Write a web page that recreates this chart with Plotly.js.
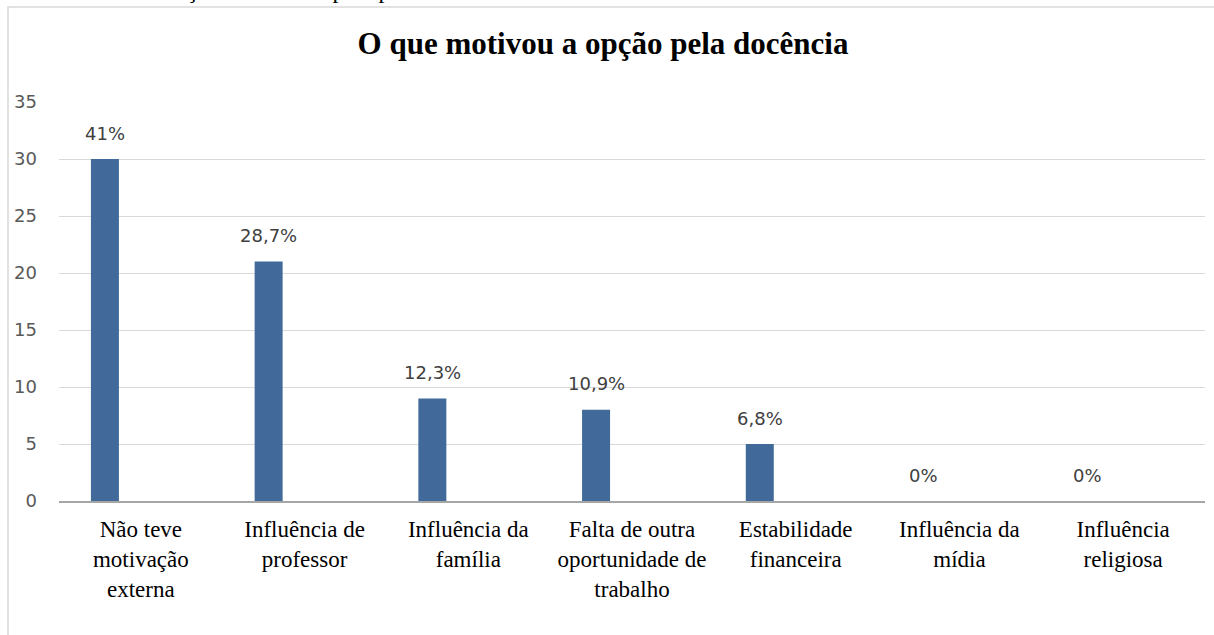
<!DOCTYPE html>
<html>
<head>
<meta charset="utf-8">
<script src="https://cdn.plot.ly/plotly-3.0.1.min.js"></script>
<style>html,body{margin:0;padding:0;background:#fff;}#chart{width:1214px;height:635px;}</style>
</head>
<body>
<div id="chart"></div>
<script>
const categories = ["Não teve motivação externa", "Influência de professor", "Influência da família", "Falta de outra oportunidade de trabalho", "Estabilidade financeira", "Influência da mídia", "Influência religiosa"];
const tickLabels = ["Não teve<br>motivação<br>externa", "Influência de<br>professor", "Influência da<br>família", "Falta de outra<br>oportunidade de<br>trabalho", "Estabilidade<br>financeira", "Influência da<br>mídia", "Influência<br>religiosa"];
const counts = [30, 21, 9, 8, 5, 0, 0];
const percentLabels = ["41%", "28,7%", "12,3%", "10,9%", "6,8%", "0%", "0%"];
const chartTitle = "O que motivou a opção pela docência";
const captionText = "Gráfico 1 – Motivação da escolha pela profissão docente";

const W = 1214, H = 635;
const L = 59, R = 1205, T = 102, B = 501;
const px2x = p => (p - L) / (R - L);
const px2y = p => (B - p) / (B - T);

const barWidth = 0.171;
const barOffset = -0.305;
const labelShift = barOffset + barWidth / 2;

const idx = categories.map((_, i) => i);

const trace = {
  type: 'bar',
  x: idx,
  y: counts,
  width: barWidth,
  offset: barOffset,
  marker: {color: '#416a9b', line: {width: 0}},
  hoverinfo: 'x+y',
  showlegend: false
};

const labelAnnotations = counts.map((v, i) => ({
  x: i + labelShift,
  y: v,
  xref: 'x', yref: 'y',
  text: percentLabels[i],
  showarrow: false,
  xanchor: 'center',
  yanchor: 'middle',
  yshift: 26,
  font: {family: 'DejaVu Sans', size: 18, color: '#404040'}
}));

const caption = {
  xref: 'paper', yref: 'paper',
  x: px2x(0), y: px2y(5),
  xanchor: 'left', yanchor: 'bottom',
  text: captionText,
  showarrow: false,
  font: {family: 'Liberation Serif', size: 24, color: '#000'}
};

const layout = {
  width: W, height: H,
  margin: {l: L, r: W - R, t: T, b: H - B, pad: 0},
  paper_bgcolor: '#fff',
  plot_bgcolor: '#fff',
  title: {
    text: '<b>' + chartTitle + '</b>',
    font: {family: 'Liberation Serif', size: 31, color: '#000'},
    x: 603 / W, xref: 'container', xanchor: 'center',
    y: 1 - 43 / H, yref: 'container', yanchor: 'middle'
  },
  xaxis: {
    type: 'linear',
    range: [-0.5, categories.length - 0.5],
    tickmode: 'array',
    tickvals: idx,
    ticktext: tickLabels,
    showgrid: false,
    zeroline: false,
    showline: true,
    linecolor: '#a6a6a6',
    linewidth: 1.5,
    ticks: '',
    ticklabelstandoff: 7,
    tickfont: {family: 'Liberation Serif', size: 23, color: '#000'},
    fixedrange: true
  },
  yaxis: {
    range: [0, 35],
    dtick: 5,
    tick0: 0,
    showgrid: true,
    gridcolor: '#d9d9d9',
    gridwidth: 1,
    zeroline: false,
    showline: false,
    ticks: '',
    ticklabelstandoff: 21,
    tickfont: {family: 'DejaVu Sans', size: 18, color: '#595959'},
    fixedrange: true
  },
  shapes: [{
    type: 'path',
    xref: 'paper', yref: 'paper',
    path: `M ${px2x(8)} ${px2y(640)} L ${px2x(8)} ${px2y(7)} L ${px2x(1220)} ${px2y(7)}`,
    line: {color: '#d9d9d9', width: 1.5}
  }],
  annotations: [caption].concat(labelAnnotations),
  showlegend: false
};

Plotly.newPlot('chart', [trace], layout, {displayModeBar: false, staticPlot: true});
</script>
</body>
</html>
